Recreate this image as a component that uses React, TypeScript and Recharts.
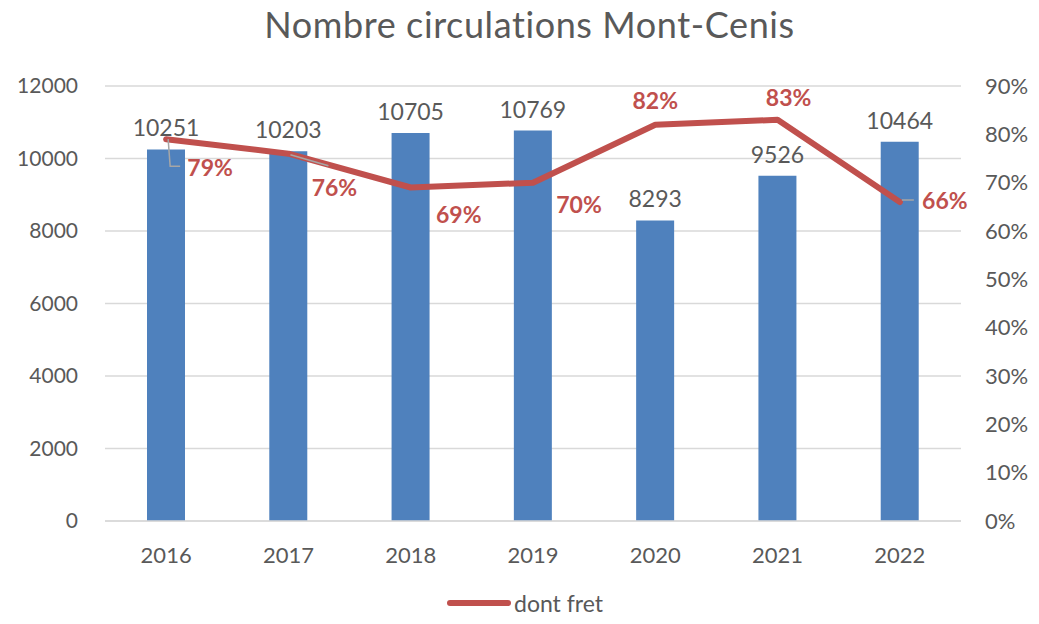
import { ComposedChart, Bar, Line, XAxis, YAxis, CartesianGrid, LabelList, Legend } from 'recharts'

const years = ['2016', '2017', '2018', '2019', '2020', '2021', '2022']
const circulations = [10251, 10203, 10705, 10769, 8293, 9526, 10464]
const fretShare = [0.79, 0.76, 0.69, 0.7, 0.82, 0.83, 0.66]
const leftTicks = [0, 2000, 4000, 6000, 8000, 10000, 12000]
const rightTicks = [0, 0.1, 0.2, 0.3, 0.4, 0.5, 0.6, 0.7, 0.8, 0.9]

const data = years.map((year, i) => ({
  year,
  total: circulations[i],
  fret: fretShare[i],
}))

const FONT = 'Lato, "Open Sans", sans-serif'
const GREY = '#595959'
const BLUE = '#4f81bd'
const RED = '#c0504d'

// where each % label sits relative to its point, plus optional leader line
const PCT_OFFSETS: { dx: number; dy: number; leader?: 'elbow' | 'diag' | 'flat' }[] = [
  { dx: 44, dy: 28, leader: 'elbow' },
  { dx: 46, dy: 33, leader: 'diag' },
  { dx: 48, dy: 26 },
  { dx: 46, dy: 21 },
  { dx: 0, dy: -25 },
  { dx: 11, dy: -23 },
  { dx: 45, dy: -2, leader: 'flat' },
]

const PctLabel = (props: any) => {
  const { x, y, value, index } = props
  const o = PCT_OFFSETS[index] || { dx: 0, dy: -20 }
  const lx = x + o.dx
  const ly = y + o.dy
  let leader = null
  if (o.leader === 'elbow') {
    leader = <polyline points={`${x + 2},${y} ${x + 4},${y + 27} ${x + 14},${y + 27}`} fill="none" stroke="#a6a6a6" strokeWidth={1.5} />
  } else if (o.leader === 'diag') {
    leader = <line x1={x + 2} y1={y + 1} x2={x + 40} y2={y + 12} stroke="#a6a6a6" strokeWidth={1.5} />
  } else if (o.leader === 'flat') {
    leader = <line x1={x + 2} y1={y - 2} x2={x + 14} y2={y - 2} stroke="#a6a6a6" strokeWidth={1.5} />
  }
  return (
    <g>
      {leader}
      <text
        x={lx}
        y={ly}
        textAnchor="middle"
        dominantBaseline="central"
        fill={RED}
        fontFamily={FONT}
        fontSize={23}
        fontWeight={700}
      >
        {Math.round(value * 100)}%
      </text>
    </g>
  )
}

const LegendContent = () => (
  <div style={{ display: 'flex', justifyContent: 'center', alignItems: 'center', fontFamily: FONT, fontSize: 23, color: GREY }}>
    <svg width={66} height={12} style={{ marginRight: 2 }}>
      <line x1={4} y1={6} x2={62} y2={6} stroke={RED} strokeWidth={6} strokeLinecap="round" />
    </svg>
    <span>dont fret</span>
  </div>
)

export default function App() {
  return (
    <div style={{ position: 'absolute', left: 0, top: 0, width: 1039, height: 624, background: '#fff' }}>
      <div
        style={{
          position: 'absolute',
          top: 2,
          left: 10,
          width: 1039,
          textAlign: 'center',
          fontFamily: FONT,
          fontSize: 36,
          letterSpacing: 0.6,
          color: GREY,
        }}
      >
        Nombre circulations Mont-Cenis
      </div>
      <ComposedChart width={1039} height={624} data={data} margin={{ top: 86, right: 0, bottom: 63, left: 0 }}>
        <CartesianGrid yAxisId="left" vertical={false} stroke="#d9d9d9" strokeWidth={1.5} />
        <XAxis
          dataKey="year"
          tickLine={false}
          axisLine={{ stroke: '#d9d9d9', strokeWidth: 1.5 }}
          tick={{ fill: GREY, fontFamily: FONT, fontSize: 22 }}
          tickMargin={20}
          height={40}
        />
        <YAxis
          yAxisId="left"
          domain={[0, 12000]}
          ticks={leftTicks}
          width={105}
          axisLine={false}
          tickLine={false}
          tickMargin={21}
          tick={{ fill: GREY, fontFamily: FONT, fontSize: 21 }}
        />
        <YAxis
          yAxisId="right"
          orientation="right"
          domain={[0, 0.9]}
          ticks={rightTicks}
          width={78}
          axisLine={false}
          tickLine={false}
          tickMargin={18}
          tickFormatter={(v: number) => `${Math.round(v * 100)}%`}
          tick={{ fill: GREY, fontFamily: FONT, fontSize: 22 }}
        />
        <Bar yAxisId="left" dataKey="total" fill={BLUE} barSize={38} isAnimationActive={false}>
          <LabelList dataKey="total" position="top" offset={13} fill={GREY} fontFamily={FONT} fontSize={23} />
        </Bar>
        <Line
          yAxisId="right"
          dataKey="fret"
          name="dont fret"
          stroke={RED}
          strokeWidth={6}
          strokeLinecap="round"
          strokeLinejoin="round"
          dot={false}
          isAnimationActive={false}
        >
          <LabelList dataKey="fret" content={<PctLabel />} />
        </Line>
        <Legend
          verticalAlign="middle"
          align="center"
          content={<LegendContent />}
          wrapperStyle={{ top: 589, left: 5, width: 1039 }}
        />
      </ComposedChart>
    </div>
  )
}
